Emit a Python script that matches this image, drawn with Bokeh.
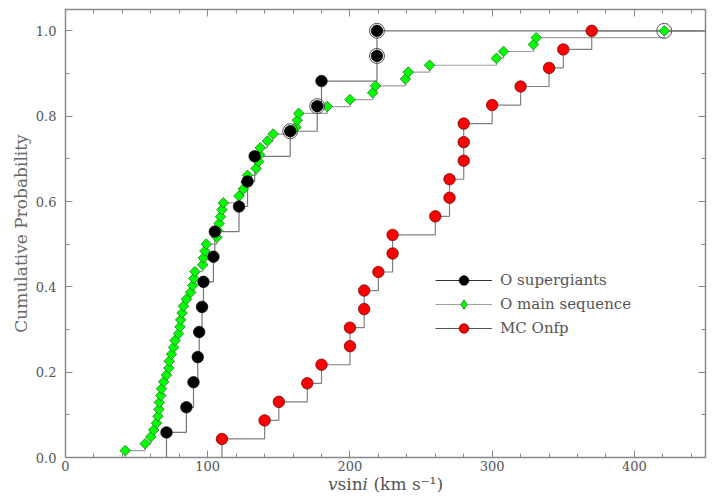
import numpy as np
from bokeh.plotting import figure
from bokeh.models import (Range1d, LinearAxis, SingleIntervalTicker, NumeralTickFormatter,
                          Legend, LegendItem)
from bokeh.embed import file_html
from bokeh.resources import INLINE

# ---- data (vsini in km/s, sorted) ----
sg_v = [71, 85, 90, 93, 94, 96, 97, 104, 105, 122, 128, 133, 158, 177, 180, 219, 219]
sg_circled = [0, 0, 0, 0, 0, 0, 0, 0, 0, 0, 0, 0, 1, 1, 0, 1, 1]

ms_v = [42, 56, 60, 62, 64, 65, 65.7, 66, 67, 67.5, 69, 71, 72.7, 73, 74.5, 76, 77, 79.5,
        80.5, 81, 82, 83, 85, 88, 89.5, 90.2, 91, 96.5, 97, 98, 99, 106.5, 107, 108, 109,
        110, 111, 122, 125, 127, 128, 134, 135.8, 136.5, 137, 142, 146, 162, 163, 164, 184,
        200, 216, 218, 239, 241, 256, 303, 308, 329, 331, 421]
ms_circled = [0] * 61 + [1]

mc_v = [110, 140, 150, 170, 180, 200, 200, 210, 210, 220, 230, 230, 260, 270, 270, 280,
        280, 280, 300, 320, 340, 350, 370]
mc_circled = [0] * 23

labels = ["O supergiants", "O main sequence", "MC Onfp"]
x_title = "\U0001D463sin\U0001D456 (km s\u207B\u00B9)"
y_title = "Cumulative Probability"
x_max = 450
y_max = 1.05

TXT = "#555555"
FONT = "DejaVu Serif"

p = figure(width=715, height=496, output_backend="svg", toolbar_location=None,
           x_range=Range1d(0, x_max), y_range=Range1d(0, y_max),
           x_axis_type=None, y_axis_type=None)
p.min_border_left = 65
p.min_border_right = 10
p.min_border_top = 9
p.min_border_bottom = 37
p.outline_line_color = "#888888"
p.outline_line_width = 1.5
p.xgrid.visible = False
p.ygrid.visible = False
p.background_fill_color = "white"
p.border_fill_color = "white"


def style_axis(ax, show_labels):
    ax.axis_line_color = "#888888"
    ax.major_tick_line_color = "#888888"
    ax.minor_tick_line_color = "#888888"
    ax.major_tick_in = 7
    ax.major_tick_out = 0
    ax.minor_tick_in = 4
    ax.minor_tick_out = 0
    if show_labels:
        ax.major_label_text_font = FONT
        ax.major_label_text_font_size = "13px"
        ax.major_label_text_color = TXT
    else:
        ax.major_label_text_font_size = "1px"
        ax.major_label_text_color = None
        ax.major_label_standoff = 0


for loc in ["below", "above"]:
    ax = LinearAxis(ticker=SingleIntervalTicker(interval=100, num_minor_ticks=5))
    style_axis(ax, loc == "below")
    if loc == "below":
        ax.major_label_standoff = 3
        ax.axis_label = x_title
        ax.axis_label_text_font = FONT
        ax.axis_label_text_font_size = "17px"
        ax.axis_label_text_font_style = "normal"
        ax.axis_label_text_color = TXT
        ax.axis_label_standoff = 0
    p.add_layout(ax, loc)

for loc in ["left", "right"]:
    ax = LinearAxis(ticker=SingleIntervalTicker(interval=0.2, num_minor_ticks=2),
                    formatter=NumeralTickFormatter(format="0.0"))
    style_axis(ax, loc == "left")
    if loc == "left":
        ax.major_label_standoff = 9
        ax.axis_label = y_title
        ax.axis_label_text_font = FONT
        ax.axis_label_text_font_size = "17px"
        ax.axis_label_text_font_style = "normal"
        ax.axis_label_text_color = "#666666"
        ax.axis_label_standoff = 2
    p.add_layout(ax, loc)


def step_path(v):
    n = len(v)
    xs = [v[0]] + list(v) + [x_max]
    ys = [0.0] + [(i + 1) / n for i in range(n)] + [1.0]
    return xs, ys


# (values, circled flags, step colour, fill, outline, marker, legend line colour)
series = [
    (ms_v, ms_circled, "#a0a0a0", "#00ff00", "#1f5f1f", "diamond", "#a0a0a0"),
    (sg_v, sg_circled, "#777777", "#000000", "#000000", "circle", "#333333"),
    (mc_v, mc_circled, "#808080", "#ff0000", "#5a0000", "circle", "#555555"),
]

for v, circ, lc, fc, oc, mk, llc in series:
    xs, ys = step_path(v)
    p.step(xs, ys, mode="after", line_color=lc, line_width=1.2)

for v, circ, lc, fc, oc, mk, llc in series:
    n = len(v)
    y = [(i + 1) / n for i in range(n)]
    cx = [xv for xv, c in zip(v, circ) if c]
    cy = [yv for yv, c in zip(y, circ) if c]
    if cx:
        p.scatter(cx, cy, marker="circle", size=15, fill_color=None,
                  line_color="#555555", line_width=1)
    if mk == "diamond":
        p.scatter(v, y, marker="square", angle=np.pi / 4, size=7.5,
                  fill_color=fc, line_color=oc, line_width=0.7)
    else:
        p.scatter(v, y, marker="circle", size=11.5,
                  fill_color=fc, line_color=oc, line_width=0.7)

# legend glyphs (style only; a single NaN point so nothing shows in the plot)
nan = [float("nan")]
leg_r = {}
for k, (v, circ, lc, fc, oc, mk, llc) in enumerate(series):
    lr = p.line(x=nan, y=nan, line_color=llc, line_width=1.2)
    mr = p.scatter(x=nan, y=nan, marker="diamond" if mk == "diamond" else "circle",
                   fill_color=fc, line_color=oc, line_width=0.7)
    leg_r[k] = [lr, mr]

order = [1, 0, 2]
items = [LegendItem(label=labels[k], renderers=leg_r[j], index=0)
         for k, j in enumerate(order)]
legend = Legend(items=items, location=(370, 117), orientation="vertical",
                glyph_width=57, glyph_height=24, label_height=22, spacing=-2,
                padding=0, margin=0, label_standoff=8,
                label_text_font=FONT, label_text_font_size="15px",
                label_text_color=TXT, border_line_color=None,
                background_fill_alpha=0)
p.add_layout(legend, "center")

open("out.html", "w").write(file_html(p, INLINE))
